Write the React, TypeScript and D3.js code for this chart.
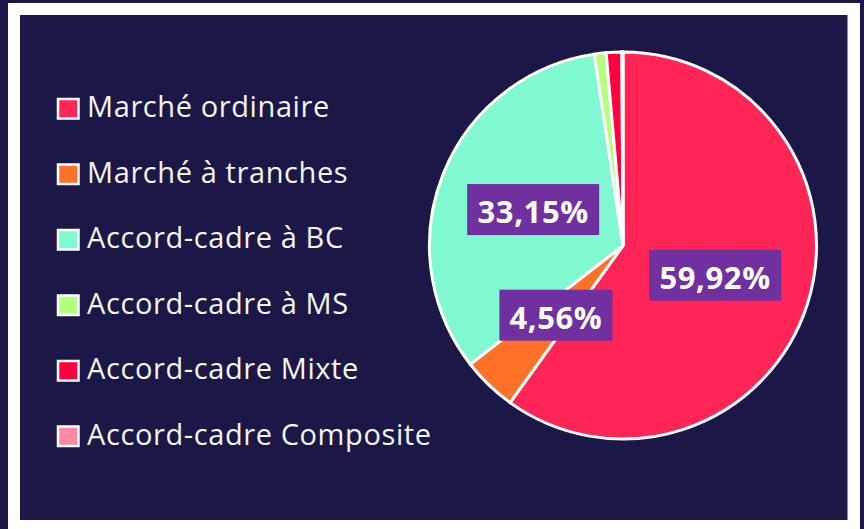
import React from "react";
import * as d3 from "d3";

const categories = [
  "Marché ordinaire",
  "Marché à tranches",
  "Accord-cadre à BC",
  "Accord-cadre à MS",
  "Accord-cadre Mixte",
  "Accord-cadre Composite",
];
const values = [59.92, 4.56, 33.15, 0.98, 1.3, 0.09];
const colors = ["#FF2557", "#FF7029", "#80F8D1", "#B4FF7E", "#FF0040", "#FF88A2"];

const W = 864;
const H = 529;
const BG = "#1B1847";

export default function App() {
  const cx = 623;
  const cy = 245.5;
  const R = 193.5;
  const data = categories.map((c, i) => ({ c, v: values[i], col: colors[i] }));
  const pie = d3
    .pie<any>()
    .sort(null)
    .value((d: any) => d.v)
    .startAngle(0)
    .endAngle(2 * Math.PI);
  const arcs = pie(data);
  const arc = d3.arc<any>().innerRadius(0).outerRadius(R);
  const labelArc = d3.arc<any>().innerRadius(R / 2).outerRadius(R / 2);
  const fmt = (v: number) => v.toFixed(2).replace(".", ",") + "%";

  const legendY = d3.scalePoint<number>().domain(d3.range(categories.length)).range([108.5, 436]);

  return (
    <svg width={W} height={H} style={{ position: "absolute", left: 0, top: 0 }}>
      <rect x={0} y={0} width={W} height={H} fill={BG} />
      <rect x={8} y={3} width={852} height={540} fill="#FFFFFF" />
      <rect x={20} y={15} width={827.5} height={505} fill={BG} />
      <g transform={`translate(${cx},${cy})`}>
        {arcs.map((a, i) => (
          <path key={i} d={arc(a) as string} fill={a.data.col} stroke="#FFFFFF" strokeWidth={3} strokeLinejoin="miter" />
        ))}
        {arcs
          .filter((a) => a.data.v > 2)
          .map((a, i) => {
            const [x, y] = labelArc.centroid(a);
            const t = fmt(a.data.v);
            const bw = a.data.v >= 10 ? 132 : 113;
            return (
              <g key={i} transform={`translate(${x},${y})`}>
                <rect x={-bw / 2} y={-25.5} width={bw} height={51} fill="#7030A0" />
                <text
                  x={0}
                  y={0}
                  dy="0.44em"
                  textAnchor="middle"
                  fill="#FFFFFF"
                  fontFamily="'Open Sans', sans-serif"
                  fontWeight={700}
                  fontSize={31}
                  letterSpacing={0.6}
                >
                  {t}
                </text>
              </g>
            );
          })}
      </g>
      <g>
        {data.map((d, i) => (
          <g key={i} transform={`translate(0,${legendY(i)})`}>
            <rect x={58} y={-9.5} width={20.5} height={19.5} fill={d.col} stroke="#FFFFFF" strokeWidth={2.5} />
            <text
              x={87}
              y={0}
              dy="0.3em"
              fill="#F4F4F4"
              fontFamily="'Open Sans', sans-serif"
              fontSize={29}
              letterSpacing={0.6}
            >
              {d.c}
            </text>
          </g>
        ))}
      </g>
    </svg>
  );
}
